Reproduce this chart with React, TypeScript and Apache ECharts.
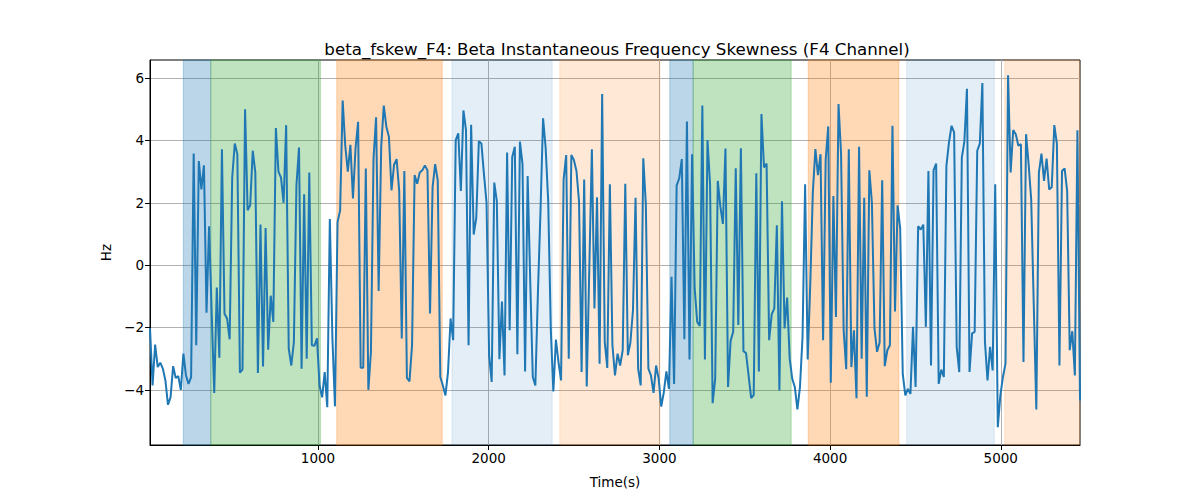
import React, { useRef, useEffect } from 'react';
import * as echarts from 'echarts';

// time grid of the samples (s)
const T0 = 16;
const DT = 15.05;

// beta instantaneous frequency skewness
const values = [
  // 0 .. 1000
  -2.03, -3.86, -2.55, -3.27, -3.13, -3.32, -3.7, -4.48, -4.24, -3.24,
  -3.62, -3.56, -4.0, -2.84, -3.54, -3.81, -3.59, 3.58, -2.57, 3.34,
  2.43, 3.2, -1.53, 1.25, -1.5, -4.1, -0.72, -2.97, 3.72, -1.56,
  -1.71, -2.38, 2.81, 3.9, 3.56, -3.45, -3.35, 5.0, 1.76, 1.92,
  3.67, 2.97, -3.46, 1.3, -3.25, 1.19, -2.71, -0.98, -1.82, 4.4,
  3.0, 2.81, 2.0, 4.49, -2.68, -3.22, -2.48, 2.56, 3.77, -3.32,
  2.27, -3.0,
  // 1000 .. 1900
  2.97, -2.57, -2.59, -2.35, -3.86, -4.24, -3.43, -4.56, 1.48, -2.35,
  -4.53, 1.38, 1.75, 5.28, 3.83, 3.0, 3.86, 2.14, 3.74, 4.6,
  -3.29, -3.29, 3.1, -4.0, -2.78, 3.4, 4.74, -0.83, 3.8, 5.12,
  4.44, 4.12, 2.4, 3.22, 3.4, 2.38, -2.35, 3.02, -3.62, -3.73,
  -2.57, 2.89, 2.61, 2.97, 3.04, 3.2, 3.04, -1.55, 2.5, 3.24,
  2.72, -3.59, -3.86, -4.18, -3.43, -1.71, -2.41, 4.01, 4.23, 2.38,
  4.96, 4.33, -2.57,
  // 1900 .. 2850
  4.5, 0.98, 1.52, 3.97, 3.9, 2.91, 2.0, -2.89, -3.75, 2.65,
  2.05, -3.02, -1.17, -3.54, 3.61, -2.09, 3.47, 3.8, -2.86, 3.96,
  3.24, -3.41, 2.86, -0.5, -3.59, -3.86, -0.88, 1.73, 4.71, 3.77,
  2.05, -2.03, -4.05, -2.39, -3.11, -3.7, 2.75, 3.53, -3.0, 3.53,
  3.37, 3.02, 2.05, -3.43, 2.75, -3.89, -0.1, 3.72, -1.39, 2.18,
  -3.16, 5.49, -2.46, -3.3, 2.59, -2.57, -3.54, -2.84, -3.22, -2.73,
  2.61, -2.89,
  // 2850 .. 3800
  -2.48, -1.44, 2.16, -3.32, -3.86, 3.43, 1.95, -3.32, -3.54, -4.1,
  -3.22, -3.65, -4.54, -4.08, -3.41, -3.97, -0.37, -3.81, 2.56, 2.78,
  3.4, -2.38, 4.61, -3.03, 3.56, -0.74, -1.82, -1.95, 5.12, -3.03,
  4.01, 2.59, -4.43, -3.65, 2.7, 1.89, 1.32, 3.74, -3.91, -2.43,
  -2.14, 3.11, -1.92, 3.75, -2.76, -2.82, -3.54, -4.27, -4.16, 2.95,
  -3.41, 4.85, 3.13, 3.26, -2.41, -1.58, -1.39, 1.28, -4.02, 2.05,
  -2.03, -1.04, -3.0,
  // 3800 .. 4700
  -3.65, -3.91, -4.63, -3.91, -2.3, 2.59, -3.03, -0.63, 2.32, 3.72,
  2.89, 3.56, -2.41, 3.37, 4.45, -3.77, 2.22, -1.66, 5.17, 3.56,
  -2.09, -3.34, 3.72, -3.27, -2.09, -4.27, 3.8, -3.0, 2.16, -4.22,
  3.04, 2.0, -2.03, -2.78, -2.48, 2.72, -3.24, -2.73, -2.57, 4.47,
  -1.49, 1.92, 1.19, -3.48, -4.18, -3.97, -4.13, -1.98, -3.91, 1.25,
  1.14, 1.3, -1.98, 3.02, -3.22, 3.04, 3.26, -3.81, -3.35, -3.59,
  // 4700 .. end
  3.18, 3.94, 4.47, 4.26, -2.62, -3.43, 3.45, 3.97, 5.66, -3.43,
  -2.19, -2.14, 3.67, 3.9, 5.84, -2.46, -3.7, -2.62, -3.38, 2.59,
  -5.2, -4.18, -3.59, -3.16, 6.09, 2.97, 4.33, 4.2, 3.83, 3.88,
  -3.11, 4.2, 3.24, 2.11, -1.28, -4.63, 2.97, 3.58, 2.7, 3.42,
  2.43, 2.5, 4.49, 3.9, -3.22, 3.02, 3.1, 2.38, -2.73, -2.12,
  -3.54, 4.33, -4.34,
];

// shaded spans (s) and their colours
const spanStarts = [211, 372, 1110, 1785, 2417, 3061, 3198, 3872, 4449, 5023];
const spanEnds = [372, 1014, 1728, 2372, 3003, 3198, 3772, 4403, 4962, 5463];
const spanColors = [
  'rgba(31,119,180,0.3)',
  'rgba(44,160,44,0.3)',
  'rgba(255,127,14,0.3)',
  'rgba(31,119,180,0.12)',
  'rgba(255,127,14,0.17)',
  'rgba(31,119,180,0.3)',
  'rgba(44,160,44,0.3)',
  'rgba(255,127,14,0.3)',
  'rgba(31,119,180,0.12)',
  'rgba(255,127,14,0.17)',
];

const xTicks = [1000, 2000, 3000, 4000, 5000];
const yTicks = [-4, -2, 0, 2, 4, 6];

const FONT = 'DejaVu Sans';

const App = () => {
  const chartRef = useRef(null);

  useEffect(() => {
    const chart = echarts.init(chartRef.current, null, { renderer: 'svg' });

    const points = values.map((v, i) => [T0 + i * DT, v]);
    const xMax = T0 + (values.length - 1) * DT;

    const areas = spanStarts.map((s, i) => [
      {
        xAxis: s,
        itemStyle: { color: spanColors[i], borderColor: spanColors[i], borderWidth: 1 },
      },
      { xAxis: spanEnds[i] },
    ]);

    const minus = (v) => (v < 0 ? '\u2212' + Math.abs(v) : String(v));

    chart.setOption({
      animation: false,
      title: {
        text: 'beta_fskew_F4: Beta Instantaneous Frequency Skewness (F4 Channel)',
        left: 612,
        top: 36,
        textAlign: 'center',
        textStyle: { fontFamily: FONT, fontSize: 16.67, fontWeight: 'normal', color: '#000' },
      },
      grid: {
        left: 150,
        right: 120,
        top: 60,
        bottom: 55,
        show: true,
        borderColor: '#000',
        borderWidth: 1,
        backgroundColor: 'transparent',
      },
      xAxis: {
        type: 'value',
        min: T0,
        max: xMax,
        name: 'Time(s)',
        nameLocation: 'middle',
        nameGap: 30,
        nameTextStyle: { fontFamily: FONT, fontSize: 13.5, color: '#000' },
        axisLine: { show: true, onZero: false, lineStyle: { color: '#000', width: 1 } },
        axisTick: { show: true, length: 5, lineStyle: { color: '#000' }, customValues: xTicks },
        axisLabel: {
          customValues: xTicks,
          formatter: (v) => String(v),
          fontFamily: FONT,
          fontSize: 13.5,
          color: '#000',
          margin: 6,
        },
        splitLine: { show: true, lineStyle: { color: '#b0b0b0', width: 1 } },
      },
      yAxis: {
        type: 'value',
        min: -5.77,
        max: 6.58,
        name: 'Hz',
        nameLocation: 'middle',
        nameGap: 36,
        nameTextStyle: { fontFamily: FONT, fontSize: 13.5, color: '#000' },
        axisLine: { show: true, onZero: false, lineStyle: { color: '#000', width: 1 } },
        axisTick: { show: true, length: 5, lineStyle: { color: '#000' }, customValues: yTicks },
        axisLabel: {
          customValues: yTicks,
          formatter: minus,
          fontFamily: FONT,
          fontSize: 13.5,
          color: '#000',
          margin: 6,
        },
        splitLine: { show: true, lineStyle: { color: '#b0b0b0', width: 1 } },
      },
      series: [
        {
          type: 'line',
          data: points,
          showSymbol: false,
          symbol: 'none',
          lineStyle: { color: '#1f77b4', width: 2 },
          clip: true,
          markArea: { silent: true, data: areas },
        },
      ],
    });

    return () => {
      chart.dispose();
    };
  }, []);

  return (
    <div
      ref={chartRef}
      style={{ position: 'fixed', left: 0, top: 0, width: '1200px', height: '500px', background: '#fff' }}
    />
  );
};

export default App;
